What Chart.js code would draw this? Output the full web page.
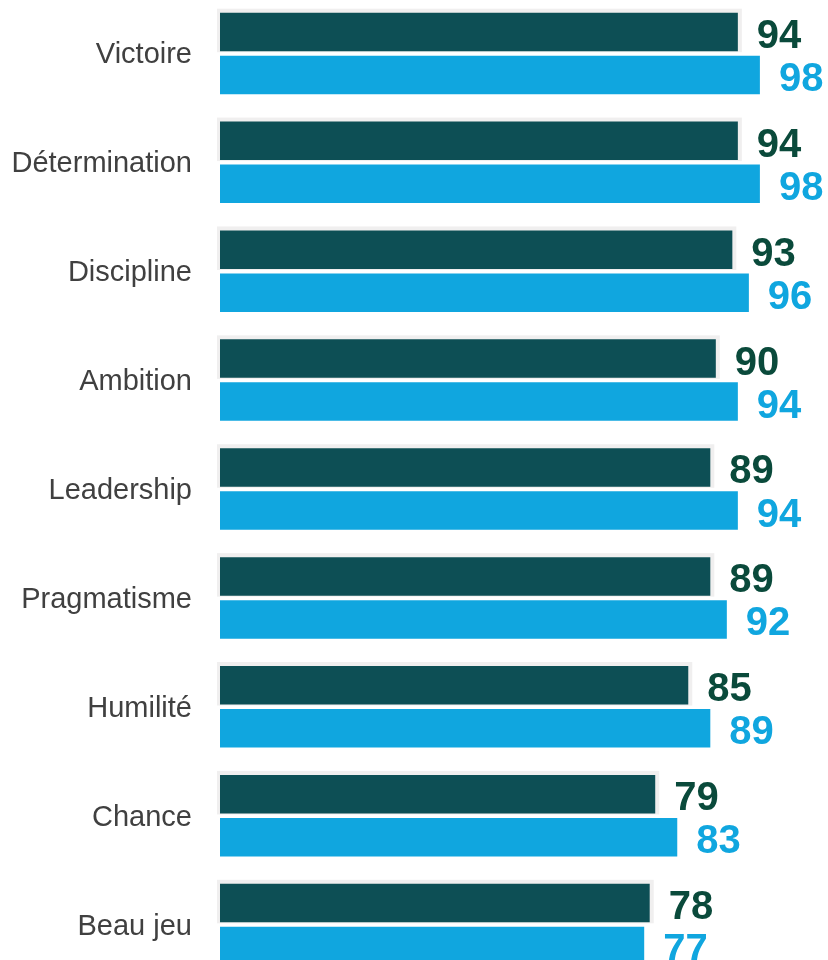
<!DOCTYPE html>
<html>
<head>
<meta charset="utf-8">
<script src="https://cdn.jsdelivr.net/npm/chart.js@4"></script>
<style>
  html, body { margin: 0; padding: 0; background: #fff; overflow: hidden; }
  #barChart { position: absolute; left: 0; top: -1px; }
</style>
</head>
<body>
<canvas id="barChart" width="828" height="980"></canvas>
<script>
const categories = ['Victoire', 'Détermination', 'Discipline', 'Ambition', 'Leadership', 'Pragmatisme', 'Humilité', 'Chance', 'Beau jeu'];
const darkValues = [94, 94, 93, 90, 89, 89, 85, 79, 78];
const lightValues = [98, 98, 96, 94, 94, 92, 89, 83, 77];

const DARK = '#0d4f55';
const LIGHT = '#10a6df';
const FONT = '"Liberation Sans", Arial, sans-serif';

// light grey box behind the dark bars
const barShadow = {
    id: 'barShadow',
    beforeDatasetsDraw(chart) {
        const ctx = chart.ctx;
        ctx.save();
        ctx.fillStyle = '#f0efef';
        chart.getDatasetMeta(0).data.forEach(bar => {
            const h = bar.height;
            ctx.fillRect(bar.base - 3, bar.y - h / 2 - 4, bar.x - bar.base + 7, h + 5);
        });
        ctx.restore();
    }
};

// values at the end of each bar
const valueLabels = {
    id: 'valueLabels',
    afterDatasetsDraw(chart) {
        const ctx = chart.ctx;
        ctx.save();
        ctx.font = 'bold 40px ' + FONT;
        ctx.textAlign = 'left';
        ctx.textBaseline = 'alphabetic';
        chart.data.datasets.forEach((ds, i) => {
            ctx.fillStyle = ds.labelColor;
            chart.getDatasetMeta(i).data.forEach((bar, j) => {
                ctx.fillText(ds.data[j], bar.x + 19, bar.y + 16);
            });
        });
        ctx.restore();
    }
};

new Chart(document.getElementById('barChart'), {
    type: 'bar',
    data: {
        labels: categories,
        datasets: [
            { label: 'Série 1', data: darkValues, backgroundColor: DARK, labelColor: '#0a4a3b',
              categoryPercentage: 0.79, barPercentage: 0.895 },
            { label: 'Série 2', data: lightValues, backgroundColor: LIGHT, labelColor: LIGHT,
              categoryPercentage: 0.79, barPercentage: 0.895 }
        ]
    },
    options: {
        indexAxis: 'y',
        responsive: false,
        animation: false,
        devicePixelRatio: 1,
        layout: { padding: { left: 0, right: 2, top: 0, bottom: 0 } },
        plugins: { legend: { display: false }, tooltip: { enabled: false } },
        scales: {
            x: { display: false, min: 0, max: 110 },
            y: {
                grid: { display: false, drawTicks: false },
                border: { display: false },
                ticks: { color: '#404040', padding: 28, labelOffset: 2, font: { family: FONT, size: 29 } },
                afterFit(scale) {
                    scale.width = 220;
                    scale.paddingTop = 0;
                    scale.paddingBottom = 0;
                }
            }
        }
    },
    plugins: [barShadow, valueLabels]
});
</script>
</body>
</html>
